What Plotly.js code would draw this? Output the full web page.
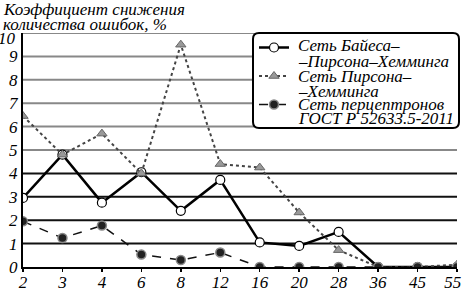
<!DOCTYPE html>
<html><head><meta charset="utf-8">
<script src="https://cdn.plot.ly/plotly-3.0.1.min.js"></script>
<style>html,body{margin:0;padding:0;background:#fff}#chart{width:463px;height:290px}</style>
</head><body><div id="chart"></div>
<script>
var categories = ['2','3','4','6','8','12','16','20','28','36','45','55'];
var bayesPearsonHamming = [2.95, 4.8, 2.75, 4.05, 2.4, 3.72, 1.05, 0.9, 1.5, 0, 0, 0];
var pearsonHamming = [6.45, 4.8, 5.7, 4.0, 9.5, 4.4, 4.25, 2.33, 0.72, 0, 0, 0.1];
var perceptronGost = [1.95, 1.24, 1.77, 0.53, 0.3, 0.62, 0, 0, 0, 0, 0, 0];
var seriesNames = [['Сеть Байеса–', '–Пирсона–Хемминга'], ['Сеть Пирсона–', '–Хемминга'], ['Сеть перцептронов', 'ГОСТ Р 52633.5-2011']];
var yTicks = [0,1,2,3,4,5,6,7,8,9,10];
var titleLines = ['Коэффициент снижения', 'количества ошибок, %'];

var F = 'Liberation Serif';
var W = 434, H = 234, L = 23, T = 33;
function px(x){ return (x - L) / W; }
function py(y){ return (T + H - y) / H; }

var traces = [
  {x: categories, y: bayesPearsonHamming, name: ' ', legendgroup: 'a', type: 'scatter', mode: 'lines+markers',
   line: {color: '#000', width: 2.5},
   marker: {symbol: 'circle', size: 9, color: '#fff', line: {color: '#000', width: 1.2}}},
  {x: categories, y: pearsonHamming, name: ' ', legendgroup: 'b', type: 'scatter', mode: 'lines+markers',
   line: {color: '#444', width: 2, dash: 'dot'},
   marker: {symbol: 'triangle-up', size: 9, color: '#999', line: {color: '#666', width: 1}}},
  {x: categories, y: perceptronGost, name: ' ', legendgroup: 'c', type: 'scatter', mode: 'lines+markers',
   line: {color: '#111', width: 1.5, dash: 'dash'},
   marker: {symbol: 'circle', size: 9, color: '#222', line: {color: '#888', width: 1.5}}}
];
var shapes = yTicks.filter(function(v){return v > 0;}).map(function(v){
  return {type: 'line', xref: 'paper', yref: 'y', x0: 0, x1: 1, y0: v, y1: v, layer: 'below',
    line: {color: v >= 5 ? '#888' : '#111', width: 2}};
});
shapes.push({type: 'path', xref: 'paper', yref: 'paper', layer: 'above',
    path: (function(){
      var x0=px(253), x1=px(459), y0=py(128), y1=py(33);
      var rx=6/W, ry=6/H;
      return 'M'+(x0+rx)+','+y1+' L'+(x1-rx)+','+y1+' Q'+x1+','+y1+' '+x1+','+(y1-ry)+
        ' L'+x1+','+(y0+ry)+' Q'+x1+','+y0+' '+(x1-rx)+','+y0+' L'+(x0+rx)+','+y0+
        ' Q'+x0+','+y0+' '+x0+','+(y0+ry)+' L'+x0+','+(y1-ry)+' Q'+x0+','+y1+' '+(x0+rx)+','+y1+' Z';
    })(),
    fillcolor: '#fff', line: {color: '#000', width: 2}});

var annotations = [];
titleLines.forEach(function(t, i){
  annotations.push({xref: 'paper', yref: 'paper', x: px(1), y: py(10 + i * 15), xanchor: 'left', yanchor: 'middle',
    text: t, showarrow: false, font: {family: F, size: 17, style: 'italic'}});
});
var legendLineY = [45, 61, 76, 91, 104, 118];
var k = 0;
seriesNames.forEach(function(lines){
  lines.forEach(function(t){
    annotations.push({xref: 'paper', yref: 'paper', x: px(296), y: py(legendLineY[k++]), xanchor: 'left', yanchor: 'middle',
      text: t, showarrow: false, font: {family: F, size: 17, style: 'italic'}});
  });
});
// top tick label sits just below its gridline in the reference
var topTick = yTicks[yTicks.length - 1];
annotations.push({xref: 'paper', yref: 'paper', x: px(18), y: py(38), xanchor: 'right', yanchor: 'middle',
  text: String(topTick), showarrow: false, font: {family: F, size: 17, style: 'italic'}});
var shownYTicks = yTicks.slice(0, -1);

var tickText = categories.map(function(c, i){ return i === categories.length - 1 ? c + '\u00a0\u00a0' : c; });

var layout = {
  width: 463, height: 290,
  margin: {l: L, r: 6, t: T, b: 23, pad: 0},
  paper_bgcolor: '#fff', plot_bgcolor: '#fff',
  font: {family: F, size: 16, color: '#000', style: 'italic'},
  xaxis: {type: 'category', range: [0, 11], showgrid: false, zeroline: false,
    tickvals: categories, ticktext: tickText,
    showline: true, linecolor: '#000', linewidth: 2,
    ticks: 'outside', ticklen: 3, tickcolor: '#000', tickwidth: 1.5, ticklabelstandoff: -4,
    tickfont: {family: F, size: 17, style: 'italic'}},
  yaxis: {range: [0, 10], tickvals: shownYTicks, ticktext: shownYTicks.map(String),
    showgrid: false, zeroline: false,
    showline: true, linecolor: '#000', linewidth: 2, ticks: '', ticklen: 0,
    tickfont: {family: F, size: 17, style: 'italic'}},
  showlegend: true,
  legend: {x: px(254), y: py(33), xanchor: 'left', yanchor: 'top', bgcolor: 'rgba(0,0,0,0)',
    font: {family: F, size: 10}, tracegroupgap: 9.5, itemwidth: 30,
    traceorder: 'grouped'},
  shapes: shapes,
  annotations: annotations
};
Plotly.newPlot('chart', traces, layout, {displayModeBar: false, staticPlot: true});
</script></body></html>
